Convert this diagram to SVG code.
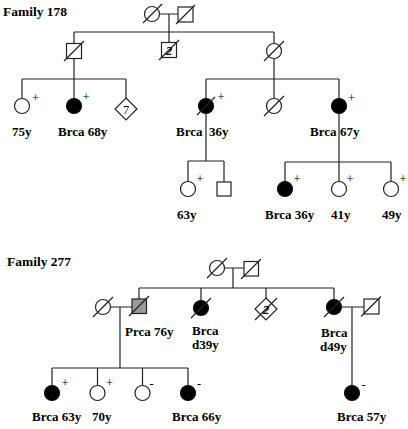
<svg xmlns="http://www.w3.org/2000/svg" width="408" height="429" viewBox="0 0 408 429">
<style>
.s{fill:#fff;stroke:#222;stroke-width:1.2}
.f{fill:#000;stroke:#111;stroke-width:1.2}
.g{fill:#9a9a9a;stroke:#222;stroke-width:1.2}
.l{stroke:#222;stroke-width:1.2;fill:none}
.t{font-family:"Liberation Serif","Times New Roman",serif;font-weight:bold;font-size:13px;fill:#000}
.h{font-family:"Liberation Serif","Times New Roman",serif;font-weight:bold;font-size:13.5px;fill:#000}
.p{font-family:"Liberation Serif","Times New Roman",serif;font-size:12.5px;fill:#000;text-anchor:middle}
.n{font-family:"Liberation Serif","Times New Roman",serif;font-weight:bold;font-size:13px;fill:#000;text-anchor:middle}
</style>
<rect width="408" height="429" fill="#fff"/>
<text class="h" x="3" y="16">Family 178</text>
<text class="h" x="7" y="266">Family 277</text>
<g id="connectors">
<path class="l" d="M160 14H178M169 14V42.5M74 32H274M74 32V43.5M274 32V43.5"/>
<path class="l" d="M74 58.5V99M22 79H126M22 79V98.5M126 79V98"/>
<path class="l" d="M274 58.5V98.5M206 79H339M206 79V98.5M339 79V98.5"/>
<path class="l" d="M206 113.5V161M188 161H224M188 161V181.5M224 161V182"/>
<path class="l" d="M339 113.5V162M285 162H391M285 162V181.5M339 162V181.5M391 162V181.5"/>
<path class="l" d="M224.5 268H244M233 268V288M139 288H334M139 288V299M201 288V300.5M266 288V298M334 288V299.5"/>
<path class="l" d="M110.5 307H132M120 307V368M52 368H188M52 368V385.5M97.5 368V385.5M142.5 368V385.5M188 368V385.5"/>
<path class="l" d="M341.5 307H364M352 307V385.5"/>
</g>
<g id="f178-gf">
<circle class="s" cx="152" cy="14" r="7.5"/><line class="l" x1="143" y1="23" x2="162" y2="4"/>
</g>
<g id="f178-gm">
<rect class="s" x="178" y="7" width="15" height="15"/><line class="l" x1="176" y1="24" x2="195" y2="5"/>
</g>
<g id="f178-son">
<rect class="s" x="66.5" y="43.5" width="15" height="15"/><line class="l" x1="64" y1="61" x2="84" y2="41"/>
</g>
<g id="f178-sons2">
<rect class="s" x="161.5" y="42.5" width="15" height="15"/><line class="l" x1="159" y1="60" x2="179" y2="40"/>
<text class="n" x="169" y="54.5" font-style="italic">2</text>
</g>
<g id="f178-dau">
<circle class="s" cx="274" cy="51" r="7.5"/><line class="l" x1="264" y1="61" x2="284" y2="41"/>
</g>
<g id="f178-c1">
<circle class="s" cx="22" cy="106" r="7.5"/><text class="p" x="35.5" y="102">+</text>
<text class="t" x="12" y="136">75y</text>
</g>
<g id="f178-c2">
<circle class="f" cx="74" cy="106" r="7.5"/><text class="p" x="86" y="101">+</text>
<text class="t" x="58" y="136">Brca 68y</text>
</g>
<g id="f178-c3">
<path class="s" d="M126 98L137 109L126 120L115 109Z"/>
<text class="p" x="126" y="113.5">7</text>
</g>
<g id="f178-c4">
<circle class="f" cx="206" cy="106" r="7.5"/><line class="l" x1="197" y1="115" x2="215" y2="97"/>
<text class="p" x="221" y="100.5">+</text>
<text class="t" x="176" y="136">Brca</text><text class="t" x="209" y="136">36y</text>
</g>
<g id="f178-c5">
<circle class="s" cx="274" cy="106" r="7.5"/><line class="l" x1="264" y1="116" x2="284" y2="96"/>
</g>
<g id="f178-c6">
<circle class="f" cx="339" cy="106" r="7.5"/><text class="p" x="351.5" y="101.5">+</text>
<text class="t" x="310" y="136">Brca</text><text class="t" x="340" y="136">67y</text>
</g>
<g id="f178-g1">
<circle class="s" cx="188" cy="189" r="7.5"/><text class="p" x="200" y="182.5">+</text>
<text class="t" x="177" y="219">63y</text>
</g>
<g id="f178-g2">
<rect class="s" x="217" y="182" width="14" height="14"/>
</g>
<g id="f178-g3">
<circle class="f" cx="285" cy="189" r="7.5"/><text class="p" x="297" y="183">+</text>
<text class="t" x="265" y="219">Brca 36y</text>
</g>
<g id="f178-g4">
<circle class="s" cx="339" cy="189" r="7.5"/><text class="p" x="350" y="183">+</text>
<text class="t" x="331" y="219">41y</text>
</g>
<g id="f178-g5">
<circle class="s" cx="391" cy="189" r="7.5"/><text class="p" x="403" y="183">+</text>
<text class="t" x="382" y="219">49y</text>
</g>
<g id="f277-gf">
<circle class="s" cx="217" cy="268" r="7.5"/><line class="l" x1="207" y1="278" x2="227" y2="258"/>
</g>
<g id="f277-gm">
<rect class="s" x="244" y="261.5" width="14.5" height="14.5"/><line class="l" x1="241" y1="279" x2="261" y2="259"/>
</g>
<g id="f277-wife">
<circle class="s" cx="103" cy="307" r="7.5"/><line class="l" x1="93" y1="317" x2="113" y2="297"/>
</g>
<g id="f277-prca">
<rect class="g" x="132" y="299" width="14.5" height="14.5"/><line class="l" x1="129" y1="316" x2="149" y2="296"/>
<text class="t" x="125" y="336">Prca 76y</text>
</g>
<g id="f277-d39">
<circle class="f" cx="201" cy="308" r="7.5"/><line class="l" x1="191" y1="318" x2="211" y2="298"/>
<text class="t" x="192" y="335">Brca</text><text class="t" x="192" y="349">d39y</text>
</g>
<g id="f277-sibs2">
<path class="s" d="M266 298L277 309L266 320L255 309Z"/><line class="l" x1="255" y1="320" x2="277" y2="298"/>
<text class="n" x="266" y="313.5" font-style="italic">2</text>
</g>
<g id="f277-d49">
<circle class="f" cx="334" cy="307" r="7.5"/><line class="l" x1="324" y1="317" x2="344" y2="297"/>
<text class="t" x="321" y="337">Brca</text><text class="t" x="320" y="351">d49y</text>
</g>
<g id="f277-husb">
<rect class="s" x="364" y="299" width="15" height="15"/><line class="l" x1="361" y1="316.5" x2="381" y2="296.5"/>
</g>
<g id="f277-c1">
<circle class="f" cx="52" cy="393" r="7.5"/><text class="p" x="65" y="387">+</text>
<text class="t" x="32" y="421">Brca 63y</text>
</g>
<g id="f277-c2">
<circle class="s" cx="97.5" cy="393" r="7.5"/><text class="p" x="109.5" y="387">+</text>
<text class="t" x="92" y="421">70y</text>
</g>
<g id="f277-c3">
<circle class="s" cx="142.5" cy="393" r="7.5"/><text class="p" x="151.5" y="387.5">-</text>
</g>
<g id="f277-c4">
<circle class="f" cx="188" cy="393" r="7.5"/><text class="p" x="199" y="387.5">-</text>
<text class="t" x="172" y="421">Brca 66y</text>
</g>
<g id="f277-c5">
<circle class="f" cx="352" cy="393" r="7.5"/><text class="p" x="363.5" y="388.5">-</text>
<text class="t" x="337" y="421">Brca 57y</text>
</g>
</svg>
